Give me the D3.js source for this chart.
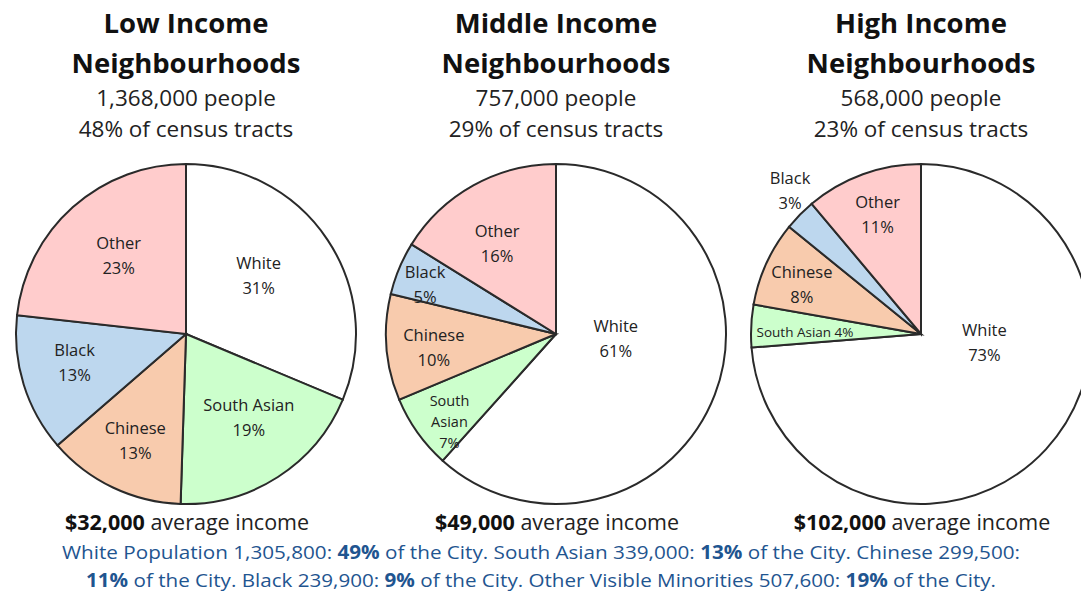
<!DOCTYPE html>
<html lang="en">
<head>
  <meta charset="UTF-8">
  <title>Income Neighbourhoods</title>
  <style>
    body { margin: 0; background: #fff; font-family: "Open Sans", sans-serif; }
    svg { display: block; }
    .slice { stroke: #2a2a2a; stroke-width: 2px; }
    .title { font-weight: 700; fill: #111; }
    .sub { fill: #222; }
    .lbl { fill: #222; }
  </style>
</head>
<body>
  <div id="chart"></div>
  <script src="https://d3js.org/d3.v7.min.js"></script>
  <script>
    // data
    const categories = ["White", "South Asian", "Chinese", "Black", "Other"];
    const colors = ["#ffffff", "#ccffcc", "#f8cbad", "#bdd7ee", "#ffcccc"];

    const groupTitles = ["Low Income", "Middle Income", "High Income"];
    const groupPeople = ["1,368,000 people", "757,000 people", "568,000 people"];
    const groupTracts = ["48% of census tracts", "29% of census tracts", "23% of census tracts"];
    const groupIncome = ["$32,000", "$49,000", "$102,000"];

    const lowValues = [31, 19, 13, 13, 23];
    const middleValues = [61, 7, 10, 5, 16];
    const highValues = [73, 4, 8, 3, 11];
    const allValues = [lowValues, middleValues, highValues];

    const footerLines = [
      [["White Population 1,305,800: ", false], ["49%", true], [" of the City. South Asian 339,000: ", false], ["13%", true], [" of the City.  Chinese 299,500:", false]],
      [["11%", true], [" of the City. Black 239,900: ", false], ["9%", true], [" of the City. Other Visible Minorities 507,600: ", false], ["19%", true], [" of the City.", false]]
    ];

    const width = 1081, height = 594;
    const radius = 170;
    const centersX = [186, 556, 921];
    const centerY = 334;

    // label placement: [radius, angle offset in degrees, style]
    const labelLayout = [
      [[93, -5, "two"], [105, -4, "two"], [118, 0, "two"], [115, 3, "two"], [103, 1, "two"]],
      [[60, -16, "two"], [138, -4, "three"], [123, -2, "two"], [140, -2, "two"], [108, -4, "two"]],
      [[64, -35, "two"], [116, -2, "inline"], [129, -2, "two"], [194, 3, "two"], [127, 0, "two"]]
    ];

    const svg = d3.select("#chart").append("svg")
      .attr("width", width)
      .attr("height", height);

    const pie = d3.pie().sort(null).value(d => d);
    const arc = d3.arc().innerRadius(0).outerRadius(radius);

    allValues.forEach((vals, gi) => {
      const cx = centersX[gi];
      const g = svg.append("g").attr("transform", `translate(${cx},${centerY})`);
      const arcs = pie(vals);

      g.selectAll("path")
        .data(arcs)
        .join("path")
        .attr("class", "slice")
        .attr("d", arc)
        .attr("fill", (d, i) => colors[i]);

      arcs.forEach((d, i) => {
        const [r, off, style] = labelLayout[gi][i];
        const a = (d.startAngle + d.endAngle) / 2 + off * Math.PI / 180;
        const x = r * Math.sin(a), y = -r * Math.cos(a);
        const pct = vals[i] + "%";
        let lines, fs = 16.5, lh = 25;
        if (style === "two") lines = [categories[i], pct];
        else if (style === "three") { lines = categories[i].split(" ").concat([pct]); fs = 14.5; lh = 21; }
        else { lines = [categories[i] + " " + pct]; fs = 13.5; }
        const t = g.append("text")
          .attr("class", "lbl")
          .attr("text-anchor", "middle")
          .attr("font-size", fs);
        lines.forEach((s, k) => {
          t.append("tspan")
            .attr("x", x)
            .attr("y", y + (k - (lines.length - 1) / 2) * lh)
            .attr("dy", "0.35em")
            .text(s);
        });
      });

      // headings
      svg.append("text").attr("class", "title")
        .attr("x", cx).attr("y", 33).attr("text-anchor", "middle")
        .attr("font-size", 27.5).text(groupTitles[gi]);
      svg.append("text").attr("class", "title")
        .attr("x", cx).attr("y", 73).attr("text-anchor", "middle")
        .attr("font-size", 27.5).text("Neighbourhoods");
      svg.append("text").attr("class", "sub")
        .attr("x", cx).attr("y", 106).attr("text-anchor", "middle")
        .attr("font-size", 22.5).text(groupPeople[gi]);
      svg.append("text").attr("class", "sub")
        .attr("x", cx).attr("y", 137).attr("text-anchor", "middle")
        .attr("font-size", 22.5).text(groupTracts[gi]);

      // income
      const inc = svg.append("text").attr("class", "sub")
        .attr("x", cx + 1).attr("y", 530).attr("text-anchor", "middle")
        .attr("font-size", 21.5);
      inc.append("tspan").attr("font-weight", 700).attr("fill", "#111").text(groupIncome[gi]);
      inc.append("tspan").text(" average income");
    });

    // footer
    const footerY = [559, 587];
    const footerLen = [958, 910];
    footerLines.forEach((parts, li) => {
      const t = svg.append("text")
        .attr("x", 541).attr("y", footerY[li])
        .attr("text-anchor", "middle")
        .attr("font-size", 19)
        .attr("fill", "#1f5590")
        .attr("textLength", footerLen[li])
        .attr("lengthAdjust", "spacingAndGlyphs");
      parts.forEach(([s, b]) => {
        t.append("tspan").attr("font-weight", b ? 700 : 400).text(s);
      });
    });
  </script>
</body>
</html>
